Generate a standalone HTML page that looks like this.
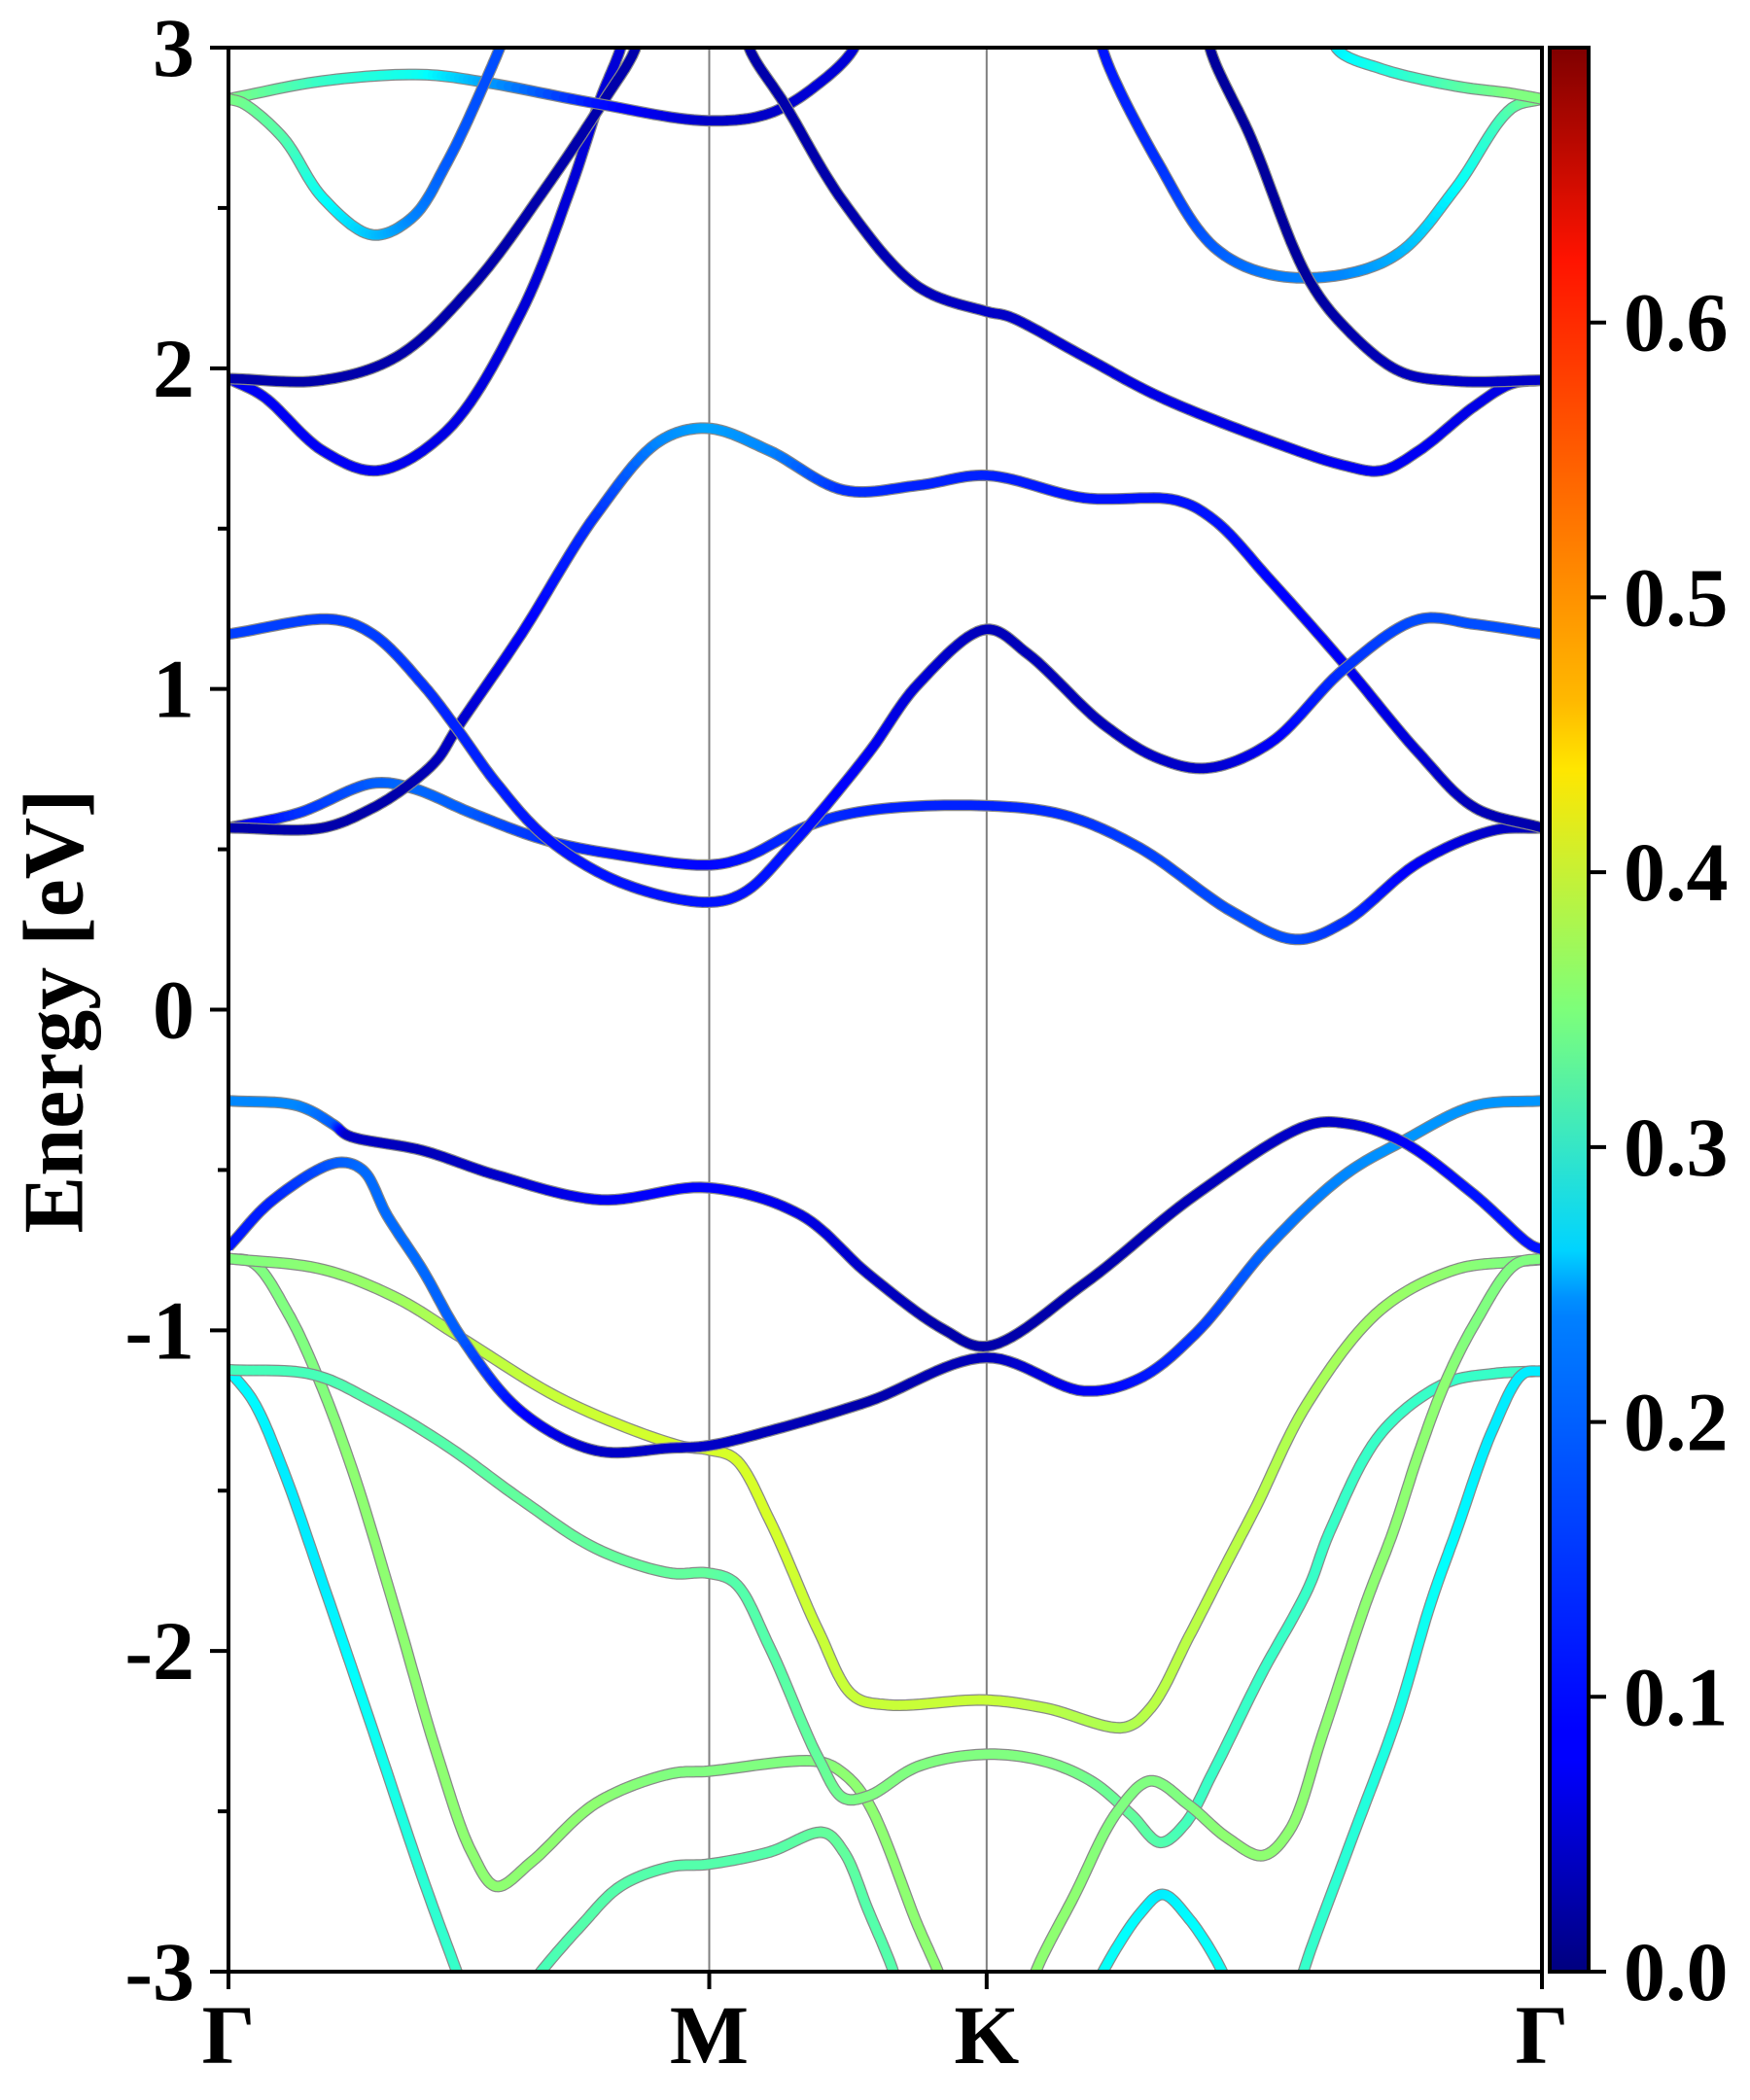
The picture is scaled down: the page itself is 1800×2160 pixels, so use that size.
<!DOCTYPE html>
<html><head><meta charset="utf-8"><style>
html,body{margin:0;padding:0;background:#fff;}
svg{display:block;font-family:"Liberation Serif",serif;font-weight:bold;}
</style></head><body>
<svg id="chart" width="1800" height="2160" viewBox="0 0 1800 2160" xmlns="http://www.w3.org/2000/svg">
<defs>
<clipPath id="plotclip"><rect x="235" y="49" width="1351" height="1979"/></clipPath>
<linearGradient id="jetgrad" x1="0" y1="1" x2="0" y2="0">
<stop offset="0" stop-color="#00007f"/><stop offset="0.11" stop-color="#0000ff"/><stop offset="0.125" stop-color="#0000ff"/>
<stop offset="0.34" stop-color="#0080ff"/><stop offset="0.35" stop-color="#0090ff"/><stop offset="0.375" stop-color="#00d4ff"/>
<stop offset="0.5" stop-color="#7dff7a"/><stop offset="0.625" stop-color="#ffe600"/><stop offset="0.66" stop-color="#ffb900"/>
<stop offset="0.89" stop-color="#ff1300"/><stop offset="1" stop-color="#7f0000"/>
</linearGradient>
</defs>
<g id="bands" clip-path="url(#plotclip)"></g>
<g id="axes"></g>
</svg>
<script>
// Path coordinates: Γ=0, M=1, K=1.577, Γ=2.732
const kLabels = ["Γ","M","K","Γ"];
const kPositions = [0, 1, 1.577, 2.732];
const yTicks = [3,2,1,0,-1,-2,-3];
const cbTicks = [0.0,0.1,0.2,0.3,0.4,0.5,0.6];
const vmax = 0.70;
// each band: [k, energy(eV), weight]
const band01 = [[0,-1.123,.26],[0.052,-1.222,.26],[0.114,-1.436,.25],[0.196,-1.787,.25],[0.30,-2.245,.27],[0.403,-2.704,.29],[0.475,-3.0,.3],[0.5,-3.1,.3]];
const band02 = [[0,-0.776,.35],[0.052,-0.79,.35],[0.124,-0.947,.35],[0.186,-1.146,.35],[0.258,-1.436,.36],[0.351,-1.894,.36],[0.434,-2.322,.36],[0.506,-2.628,.36],[0.557,-2.734,.36],[0.63,-2.658,.36],[0.764,-2.475,.36],[0.919,-2.383,.35],[0.997,-2.375,.35],[1.228,-2.345,.35],[1.28,-2.383,.36],[1.331,-2.475,.36],[1.434,-2.857,.36],[1.476,-3.0,.36],[1.5,-3.1,.36]];
const band03 = [[0,-0.776,.35],[0.196,-0.81,.36],[0.351,-0.9,.37],[0.485,-1.024,.39],[0.7,-1.22,.4],[0.939,-1.36,.41],[0.997,-1.372,.41],[1.053,-1.40,.41],[1.125,-1.59,.41],[1.228,-1.94,.4],[1.30,-2.14,.4],[1.372,-2.168,.4],[1.575,-2.153,.4],[1.70,-2.178,.39],[1.864,-2.238,.38],[1.918,-2.178,.39],[1.998,-1.955,.39],[2.067,-1.753,.39],[2.137,-1.551,.39],[2.244,-1.228,.38],[2.398,-0.934,.37],[2.553,-0.81,.36],[2.669,-0.787,.35],[2.732,-0.779,.35]];
const band04 = [[0,-1.123,.31],[0.176,-1.138,.31],[0.30,-1.222,.32],[0.454,-1.36,.32],[0.609,-1.528,.33],[0.764,-1.68,.33],[0.919,-1.757,.33],[0.997,-1.757,.33],[1.053,-1.787,.32],[1.125,-1.986,.32],[1.228,-2.337,.33],[1.28,-2.459,.34],[1.331,-2.452,.35],[1.434,-2.36,.35],[1.575,-2.322,.35],[1.70,-2.345,.35],[1.799,-2.41,.34],[1.878,-2.511,.33],[1.938,-2.597,.32],[1.988,-2.542,.31],[2.047,-2.38,.3],[2.147,-2.077,.3],[2.246,-1.804,.3],[2.29,-1.63,.3],[2.398,-1.32,.3],[2.53,-1.166,.3],[2.631,-1.135,.3],[2.732,-1.127,.3]];
const band05 = [[0.6,-3.1,.31],[0.65,-3.0,.31],[0.733,-2.857,.32],[0.815,-2.734,.32],[0.919,-2.673,.32],[0.997,-2.665,.32],[1.125,-2.627,.32],[1.238,-2.566,.33],[1.28,-2.627,.33],[1.331,-2.81,.32],[1.383,-3.0,.32],[1.4,-3.1,.32]];
const band06 = [[1.66,-3.1,.36],[1.68,-2.997,.36],[1.759,-2.764,.36],[1.849,-2.501,.35],[1.918,-2.405,.35],[1.998,-2.481,.35],[2.077,-2.582,.36],[2.151,-2.638,.36],[2.206,-2.562,.36],[2.276,-2.259,.36],[2.365,-1.854,.36],[2.422,-1.63,.36],[2.476,-1.382,.36],[2.53,-1.166,.36],[2.592,-0.98,.35],[2.677,-0.794,.35],[2.732,-0.776,.35]];
const band07 = [[1.79,-3.1,.27],[1.819,-3.0,.27],[1.898,-2.815,.26],[1.943,-2.759,.25],[1.998,-2.835,.26],[2.067,-3.0,.27],[2.09,-3.1,.27]];
const band08 = [[2.22,-3.1,.3],[2.236,-3.0,.3],[2.33,-2.613,.29],[2.43,-2.208,.28],[2.50,-1.854,.27],[2.553,-1.63,.26],[2.631,-1.305,.25],[2.693,-1.135,.25],[2.732,-1.127,.25]];
const band09 = [[0,-0.74,.1],[0.093,-0.593,.11],[0.227,-0.477,.15],[0.279,-0.5,.16],[0.33,-0.642,.16],[0.403,-0.81,.16],[0.485,-1.024,.15],[0.609,-1.253,.09],[0.764,-1.375,.05],[0.92,-1.367,.05],[0.997,-1.36,.05],[1.125,-1.314,.04],[1.331,-1.222,.03],[1.577,-1.085,.04],[1.779,-1.189,.08],[1.895,-1.15,.1],[2.011,-1.011,.12],[2.166,-0.733,.16],[2.321,-0.516,.18],[2.445,-0.408,.19],[2.592,-0.3,.19],[2.732,-0.284,.19]];
const band10 = [[0,-0.284,.18],[0.145,-0.3,.18],[0.22,-0.36,.15],[0.248,-0.392,.05],[0.403,-0.439,.04],[0.557,-0.516,.05],[0.774,-0.593,.08],[0.997,-0.555,.09],[1.19,-0.64,.07],[1.331,-0.825,.05],[1.486,-0.996,.03],[1.577,-1.05,.03],[1.779,-0.856,.03],[2.011,-0.578,.04],[2.244,-0.361,.05],[2.321,-0.354,.05],[2.437,-0.408,.08],[2.592,-0.578,.1],[2.708,-0.733,.1],[2.732,-0.748,.1]];
const band11 = [[0,0.567,.06],[0.145,0.613,.12],[0.30,0.706,.15],[0.382,0.691,.16],[0.506,0.613,.15],[0.661,0.528,.12],[0.815,0.482,.1],[0.997,0.451,.09],[1.073,0.474,.1],[1.208,0.575,.12],[1.331,0.621,.11],[1.577,0.636,.11],[1.74,0.606,.12],[1.895,0.505,.13],[2.089,0.304,.14],[2.22,0.219,.14],[2.321,0.273,.12],[2.476,0.459,.08],[2.631,0.559,.05],[2.732,0.567,.04]];
const band12 = [[0,0.567,.03],[0.196,0.567,.03],[0.30,0.629,.03],[0.372,0.698,.03],[0.434,0.78,.04],[0.475,0.877,.05],[0.609,1.171,.08],[0.764,1.542,.12],[0.898,1.774,.18],[0.997,1.813,.2],[1.125,1.743,.18],[1.28,1.62,.12],[1.435,1.635,.11],[1.577,1.666,.11],[1.779,1.596,.1],[1.973,1.588,.1],[2.05,1.527,.1],[2.166,1.341,.09],[2.321,1.078,.08],[2.476,0.8,.06],[2.592,0.63,.04],[2.732,0.567,.03]];
const band13 = [[0,1.171,.13],[0.217,1.217,.13],[0.30,1.171,.13],[0.403,1.016,.12],[0.475,0.877,.11],[0.557,0.707,.11],[0.661,0.536,.1],[0.815,0.397,.1],[0.997,0.335,.1],[1.073,0.366,.1],[1.176,0.521,.1],[1.331,0.8,.08],[1.435,1.016,.06],[1.577,1.186,.04],[1.663,1.109,.04],[1.818,0.892,.04],[1.934,0.784,.05],[2.035,0.753,.05],[2.166,0.831,.08],[2.321,1.063,.12],[2.476,1.217,.14],[2.592,1.202,.14],[2.732,1.171,.14]];
const band14 = [[0,1.968,.08],[0.072,1.913,.08],[0.196,1.743,.08],[0.31,1.681,.08],[0.454,1.805,.07],[0.609,2.176,.06],[0.712,2.563,.06],[0.774,2.842,.06],[0.815,2.996,.06],[0.83,3.1,.06]];
const band15 = [[0,1.968,.03],[0.196,1.963,.03],[0.351,2.037,.03],[0.506,2.254,.03],[0.66,2.563,.03],[0.784,2.842,.03],[0.846,2.996,.03],[0.86,3.1,.03]];
const band16 = [[0,2.84,.35],[0.196,2.896,.3],[0.403,2.916,.27],[0.537,2.891,.2],[0.764,2.826,.1],[0.997,2.772,.05],[1.125,2.795,.05],[1.228,2.888,.06],[1.30,2.996,.06],[1.32,3.1,.06]];
const band17 = [[0,2.84,.35],[0.031,2.826,.34],[0.114,2.718,.32],[0.196,2.532,.27],[0.30,2.416,.22],[0.382,2.47,.18],[0.454,2.64,.15],[0.537,2.904,.14],[0.573,3.03,.14]];
const band18 = [[1.07,3.1,.03],[1.084,2.996,.03],[1.156,2.826,.03],[1.28,2.517,.03],[1.435,2.254,.04],[1.577,2.177,.05],[1.624,2.161,.05],[1.779,2.037,.06],[1.934,1.913,.07],[2.166,1.774,.07],[2.321,1.697,.08],[2.398,1.681,.08],[2.476,1.743,.08],[2.592,1.882,.07],[2.669,1.952,.07],[2.732,1.963,.07]];
const band19 = [[1.81,3.1,.1],[1.818,2.996,.1],[1.934,2.64,.12],[2.05,2.378,.15],[2.166,2.293,.17],[2.321,2.293,.18],[2.437,2.362,.21],[2.553,2.563,.26],[2.669,2.811,.32],[2.732,2.84,.35]];
const band20 = [[2.035,3.1,.02],[2.042,2.996,.02],[2.127,2.718,.02],[2.244,2.285,.02],[2.321,2.13,.03],[2.437,1.99,.04],[2.553,1.96,.05],[2.732,1.963,.05]];
const band21 = [[2.29,3.1,.25],[2.306,2.996,.25],[2.398,2.934,.28],[2.553,2.88,.32],[2.669,2.857,.35],[2.732,2.84,.35]];
const bands = [band01,band02,band03,band04,band05,band06,band07,band08,band09,band10,band11,band12,band13,band14,band15,band16,band17,band18,band19,band20,band21];

const NS = "http://www.w3.org/2000/svg";
const L = 235, R = 1586, T = 49, B = 2028;
const kMax = 2.732, eMin = -3, eMax = 3;
function xs(k){ return L + k/kMax*(R-L); }
function ys(e){ return T + (eMax-e)/(eMax-eMin)*(B-T); }
function jet(v){
  let t = Math.max(0, Math.min(1, v/vmax));
  const f = c => Math.round(255*Math.max(0, Math.min(1, 1.5 - Math.abs(4*t - c))));
  return "rgb(" + f(3) + "," + f(2) + "," + f(1) + ")";
}
function mk(tag, attrs, parent){
  const el = document.createElementNS(NS, tag);
  for (const a in attrs) el.setAttribute(a, attrs[a]);
  parent.appendChild(el);
  return el;
}
// centripetal Catmull-Rom sampling
function sampleBand(pts){
  const out = [];
  const P = pts.map(p => [xs(p[0]), ys(p[1]), p[2]]);
  const n = P.length;
  const ext = (a, b) => [2*a[0]-b[0], 2*a[1]-b[1], a[2]];
  for (let i = 0; i < n-1; i++){
    const p0 = i > 0 ? P[i-1] : ext(P[0], P[1]);
    const p1 = P[i], p2 = P[i+1];
    const p3 = i+2 < n ? P[i+2] : ext(P[n-1], P[n-2]);
    const dt = (a, b) => Math.max(1e-3, Math.pow(Math.hypot(b[0]-a[0], b[1]-a[1]), 0.5));
    const t0 = 0, t1 = t0 + dt(p0,p1), t2 = t1 + dt(p1,p2), t3 = t2 + dt(p2,p3);
    const steps = 14;
    for (let s = 0; s < steps; s++){
      const t = t1 + (t2 - t1) * s / steps;
      const pt = [0,1].map(j => {
        const A1 = (t1-t)/(t1-t0)*p0[j] + (t-t0)/(t1-t0)*p1[j];
        const A2 = (t2-t)/(t2-t1)*p1[j] + (t-t1)/(t2-t1)*p2[j];
        const A3 = (t3-t)/(t3-t2)*p2[j] + (t-t2)/(t3-t2)*p3[j];
        const B1 = (t2-t)/(t2-t0)*A1 + (t-t0)/(t2-t0)*A2;
        const B2 = (t3-t)/(t3-t1)*A2 + (t-t1)/(t3-t1)*A3;
        return (t2-t)/(t2-t1)*B1 + (t-t1)/(t2-t1)*B2;
      });
      const u = s / steps;
      out.push([pt[0], pt[1], p1[2] + (p2[2]-p1[2])*u]);
    }
  }
  const last = P[n-1];
  out.push([last[0], last[1], last[2]]);
  return out;
}
const gB = document.getElementById("bands");
const gA = document.getElementById("axes");
[1,2].forEach(i => {
  const ln = mk("line", {x1: xs(kPositions[i]), x2: xs(kPositions[i]), y1: T, y2: B, stroke: "#808080", "stroke-width": 2}, gB);
  
  
});
bands.forEach((band, bi) => {
  const pts = sampleBand(band);
  const g = mk("g", {}, gB);
  
  
  const d = pts.map((p,i) => (i ? "L" : "M") + p[0].toFixed(1) + "," + p[1].toFixed(1)).join("");
  mk("path", {d: d, fill: "none", stroke: "#888", "stroke-width": 12, "stroke-linejoin": "round"}, g);
  for (let i = 0; i < pts.length-1; i++){
    mk("line", {x1: pts[i][0].toFixed(1), y1: pts[i][1].toFixed(1), x2: pts[i+1][0].toFixed(1), y2: pts[i+1][1].toFixed(1),
      stroke: jet((pts[i][2]+pts[i+1][2])/2), "stroke-width": 9.5, "stroke-linecap": "round"}, g);
  }
});
const frame = mk("rect", {x: L, y: T, width: R-L, height: B-T, fill: "none", stroke: "#000", "stroke-width": 4}, gA);


for (let e = -3; e <= 3.001; e += 0.5){
  const major = Math.abs(e - Math.round(e)) < 1e-6;
  mk("line", {x1: L - (major ? 19 : 11), x2: L, y1: ys(e), y2: ys(e), stroke: "#000", "stroke-width": 4}, gA);
}
yTicks.forEach(v => {
  const t = mk("text", {x: 200, y: ys(v), "text-anchor": "end", "dominant-baseline": "central", "font-size": 86}, gA);
  t.textContent = String(v);
  
  
});
kPositions.forEach((k, i) => {
  mk("line", {x1: xs(k), x2: xs(k), y1: B, y2: B + 18, stroke: "#000", "stroke-width": 4}, gA);
  const t = mk("text", {x: xs(k), y: 2122, "text-anchor": "middle", "font-size": 86}, gA);
  t.textContent = kLabels[i];
  
  
});
const yt = mk("text", {x: 0, y: 0, "text-anchor": "middle", "dominant-baseline": "central", "font-size": 88, transform: "translate(56,1040) rotate(-90)"}, gA);
yt.textContent = "Energy [eV]";


const CBL = 1594, CBR = 1634;
const cb = mk("rect", {x: CBL, y: T, width: CBR-CBL, height: B-T, fill: "url(#jetgrad)", stroke: "#000", "stroke-width": 4}, gA);


function cy(v){ return B - v/vmax*(B-T); }
cbTicks.forEach(v => {
  mk("line", {x1: CBR, x2: CBR + 18, y1: cy(v), y2: cy(v), stroke: "#000", "stroke-width": 4}, gA);
  const t = mk("text", {x: 1670, y: cy(v), "dominant-baseline": "central", "font-size": 86}, gA);
  t.textContent = v.toFixed(1);
  
  
});
</script>
</body></html>
